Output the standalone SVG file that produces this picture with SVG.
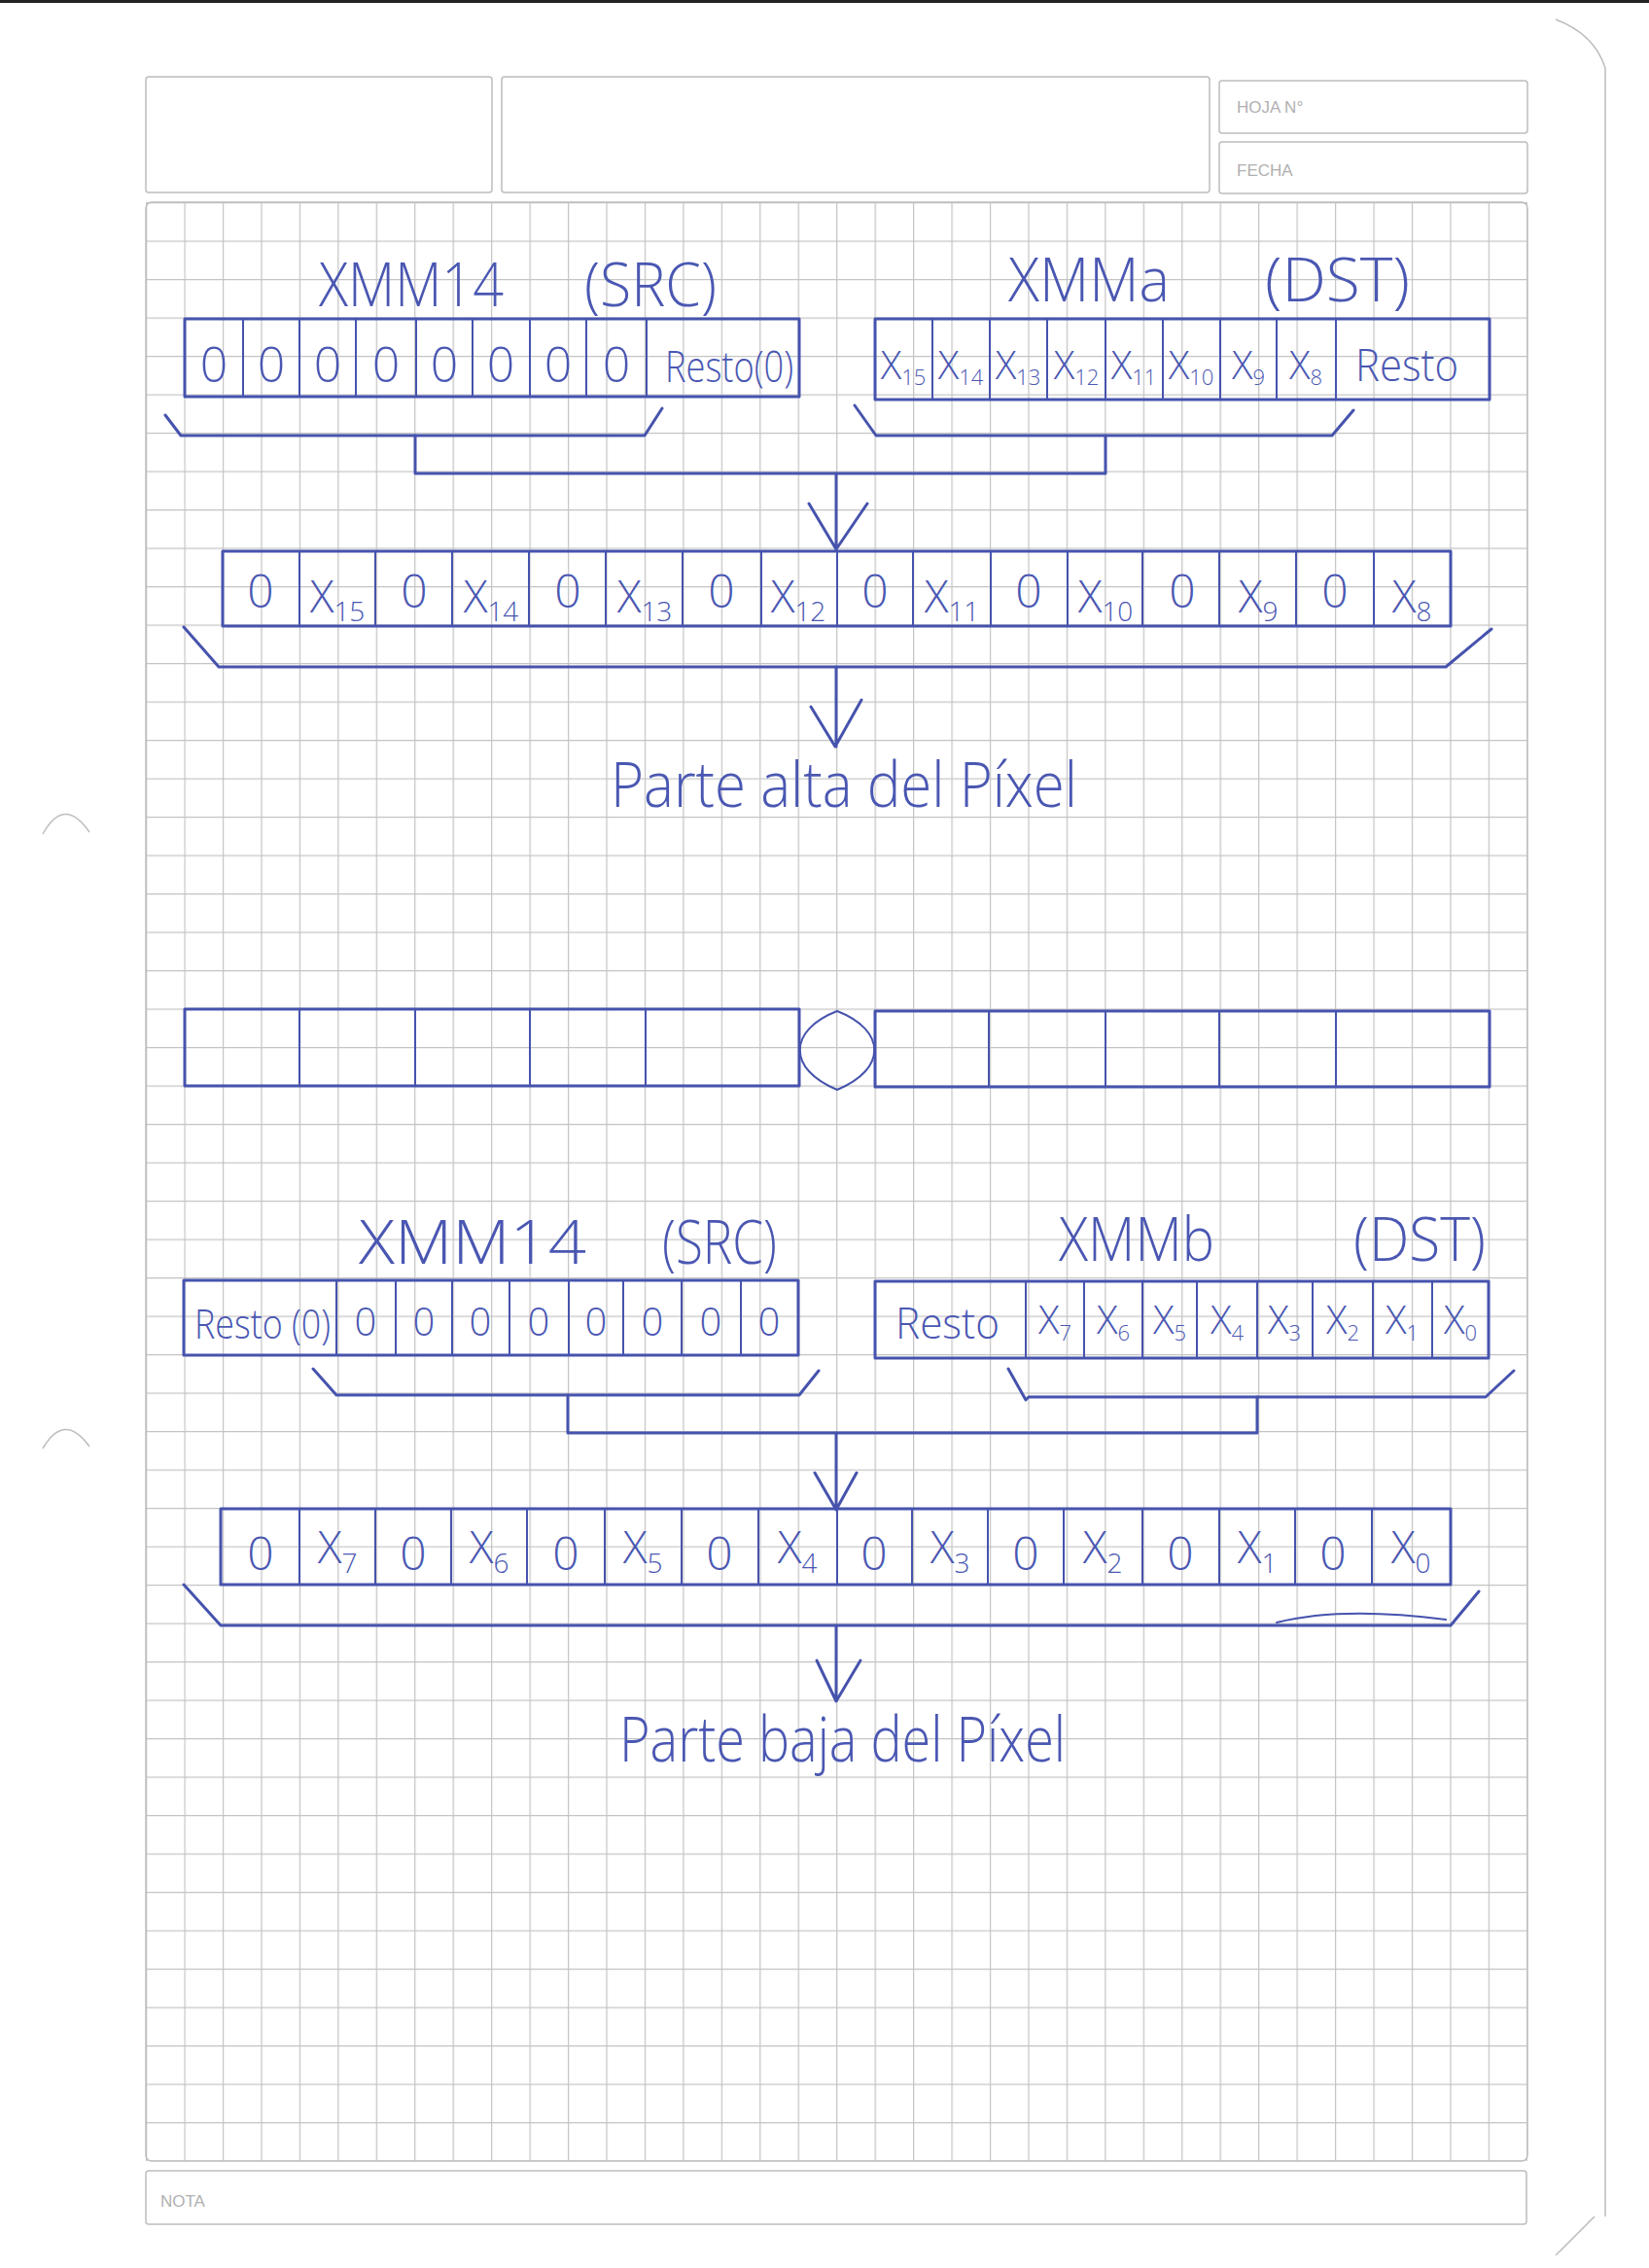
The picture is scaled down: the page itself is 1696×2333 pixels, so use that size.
<svg xmlns="http://www.w3.org/2000/svg" width="1696" height="2333" viewBox="0 0 1696 2333">
<defs>
<pattern id="grid" x="150" y="208" width="39.45" height="39.5" patternUnits="userSpaceOnUse">
<path d="M0,0.6 H39.45 M0.6,0 V39.5" fill="none" stroke="#c4c4c4" stroke-width="1.3"/>
</pattern>
<style>
.paper{fill:none;stroke:#bdbdbd;stroke-width:1.5}
.ptxt{font-family:"Liberation Sans",Arial,sans-serif;font-size:17px;fill:#b0b0b0}
.pen{fill:none;stroke:#4653ad;stroke-width:3;stroke-linecap:round;stroke-linejoin:round}
.thin{fill:none;stroke:#4653ad;stroke-width:2;stroke-linecap:round}
.hw{font-family:"Open Sans","DejaVu Sans",sans-serif;font-weight:300;fill:#4a57b2}
.z1{font-size:50px;text-anchor:middle}
.x1{font-size:40px;text-anchor:middle}
.z2{font-size:48px;text-anchor:middle}
.x2{font-size:46px;text-anchor:middle}
.z3{font-size:40px;text-anchor:middle}
.sub1{font-size:22px}
.sub2{font-size:28px}
.title{font-size:62px}
.big{font-size:64px}
</style>
</defs>
<rect x="0" y="0" width="1696" height="2333" fill="#ffffff"/>
<rect x="0" y="0" width="1696" height="3" fill="#222222"/>

<!-- paper template -->
<g id="paper">
<rect class="paper" x="150" y="79" width="356" height="119" rx="3"/>
<rect class="paper" x="516" y="79" width="728" height="119" rx="3"/>
<rect class="paper" x="1254" y="83" width="317" height="54" rx="3"/>
<rect class="paper" x="1254" y="146" width="317" height="53" rx="3"/>
<text class="ptxt" x="1272" y="116">HOJA N°</text>
<text class="ptxt" x="1272" y="181">FECHA</text>
<rect x="150" y="208" width="1421" height="2015" fill="url(#grid)"/>
<rect class="paper" x="150" y="208" width="1421" height="2015" rx="6"/>
<rect class="paper" x="150" y="2233" width="1420" height="55" rx="3"/>
<text class="ptxt" x="165" y="2270">NOTA</text>
<path class="paper" d="M44,858 Q66,818 92,856"/>
<path class="paper" d="M44,1490 Q66,1452 92,1488"/>
<path class="paper" d="M1600,20 Q1640,35 1651,70 V2280"/>
<path class="paper" d="M1600,2320 L1640,2280"/>
</g>

<!-- top: XMM14 (SRC) -->
<g id="reg-src-hi">
<text class="hw title" y="315"><tspan x="328" textLength="190" lengthAdjust="spacingAndGlyphs">XMM14</tspan><tspan x="601" textLength="136" lengthAdjust="spacingAndGlyphs">(SRC)</tspan></text>
<rect class="pen" x="190" y="328" width="632" height="80"/>
<path class="thin" d="M250,328V408 M308,328V408 M366,328V408 M428,328V408 M486,328V408 M545,328V408 M603,328V408 M665,328V408"/>
<g class="hw z1">
<text x="220" y="393">0</text><text x="279" y="393">0</text><text x="337" y="393">0</text><text x="397" y="393">0</text>
<text x="457" y="393">0</text><text x="515" y="393">0</text><text x="574" y="393">0</text><text x="634" y="393">0</text>
</g>
<text class="hw" font-size="44" x="684" y="393" textLength="132" lengthAdjust="spacingAndGlyphs">Resto(0)</text>
</g>

<!-- top: XMMa (DST) -->
<g id="reg-dst-hi">
<text class="hw title" y="310"><tspan x="1037" textLength="166" lengthAdjust="spacingAndGlyphs">XMMa</tspan><tspan x="1301" textLength="149" lengthAdjust="spacingAndGlyphs">(DST)</tspan></text>
<rect class="pen" x="900" y="328" width="632" height="83"/>
<path class="thin" d="M959,328V411 M1018,328V411 M1077,328V411 M1137,328V411 M1196,328V411 M1255,328V411 M1313,328V411 M1374,328V411"/>
<g class="hw x1">
<text x="929" y="390">X<tspan class="sub1" dy="6">15</tspan></text>
<text x="988" y="390">X<tspan class="sub1" dy="6">14</tspan></text>
<text x="1047" y="390">X<tspan class="sub1" dy="6">13</tspan></text>
<text x="1107" y="390">X<tspan class="sub1" dy="6">12</tspan></text>
<text x="1166" y="390">X<tspan class="sub1" dy="6">11</tspan></text>
<text x="1225" y="390">X<tspan class="sub1" dy="6">10</tspan></text>
<text x="1284" y="390">X<tspan class="sub1" dy="6">9</tspan></text>
<text x="1343" y="390">X<tspan class="sub1" dy="6">8</tspan></text>
</g>
<text class="hw" font-size="46" x="1394" y="392" textLength="106" lengthAdjust="spacingAndGlyphs">Resto</text>
</g>

<!-- result high -->
<g id="result-hi">
<rect class="pen" x="229" y="567" width="1263" height="77"/>
<path class="thin" d="M308,567V644 M386,567V644 M465,567V644 M544,567V644 M623,567V644 M702,567V644 M783,567V644 M861,567V644 M939,567V644 M1019,567V644 M1098,567V644 M1175,567V644 M1254,567V644 M1333,567V644 M1413,567V644"/>
<g class="hw z2">
<text x="268" y="625">0</text><text x="426" y="625">0</text><text x="584" y="625">0</text><text x="742" y="625">0</text>
<text x="900" y="625">0</text><text x="1058" y="625">0</text><text x="1216" y="625">0</text><text x="1373" y="625">0</text>
</g>
<g class="hw x2">
<text x="347" y="630">X<tspan class="sub2" dy="9">15</tspan></text>
<text x="505" y="630">X<tspan class="sub2" dy="9">14</tspan></text>
<text x="663" y="630">X<tspan class="sub2" dy="9">13</tspan></text>
<text x="821" y="630">X<tspan class="sub2" dy="9">12</tspan></text>
<text x="979" y="630">X<tspan class="sub2" dy="9">11</tspan></text>
<text x="1137" y="630">X<tspan class="sub2" dy="9">10</tspan></text>
<text x="1294" y="630">X<tspan class="sub2" dy="9">9</tspan></text>
<text x="1452" y="630">X<tspan class="sub2" dy="9">8</tspan></text>
</g>
</g>

<g id="label-hi">
<text class="hw big" x="628" y="830" textLength="480" lengthAdjust="spacingAndGlyphs">Parte alta del Píxel</text>
</g>

<!-- blank register pair -->
<g id="blank-row">
<rect class="pen" x="190" y="1038" width="632" height="79"/>
<path class="thin" d="M308,1038V1117 M427,1038V1117 M545,1038V1117 M664,1038V1117"/>
<path class="thin" d="M861,1040 C810,1060 810,1100 861,1121 C912,1100 912,1060 861,1040 Z"/>
<rect class="pen" x="900" y="1040" width="632" height="78"/>
<path class="thin" d="M1017,1040V1118 M1137,1040V1118 M1254,1040V1118 M1374,1040V1118"/>
</g>

<!-- bottom: XMM14 (SRC) -->
<g id="reg-src-lo">
<text class="hw title" y="1300"><tspan x="369" textLength="234" lengthAdjust="spacingAndGlyphs">XMM14</tspan><tspan x="681" textLength="118" lengthAdjust="spacingAndGlyphs">(SRC)</tspan></text>
<rect class="pen" x="189" y="1317" width="632" height="77"/>
<path class="thin" d="M346,1317V1394 M407,1317V1394 M465,1317V1394 M524,1317V1394 M585,1317V1394 M641,1317V1394 M701,1317V1394 M762,1317V1394"/>
<text class="hw" font-size="42" x="200" y="1377" textLength="140" lengthAdjust="spacingAndGlyphs">Resto (0)</text>
<g class="hw z3">
<text x="376" y="1374">0</text><text x="436" y="1374">0</text><text x="494" y="1374">0</text><text x="554" y="1374">0</text>
<text x="613" y="1374">0</text><text x="671" y="1374">0</text><text x="731" y="1374">0</text><text x="791" y="1374">0</text>
</g>
</g>

<!-- bottom: XMMb (DST) -->
<g id="reg-dst-lo">
<text class="hw title" y="1297"><tspan x="1089" textLength="160" lengthAdjust="spacingAndGlyphs">XMMb</tspan><tspan x="1392" textLength="136" lengthAdjust="spacingAndGlyphs">(DST)</tspan></text>
<rect class="pen" x="900" y="1318" width="631" height="79"/>
<path class="thin" d="M1055,1318V1397 M1115,1318V1397 M1175,1318V1397 M1231,1318V1397 M1293,1318V1397 M1350,1318V1397 M1412,1318V1397 M1473,1318V1397"/>
<text class="hw" font-size="44" x="921" y="1377" textLength="107" lengthAdjust="spacingAndGlyphs">Resto</text>
<g class="hw x1">
<text x="1085" y="1372">X<tspan class="sub1" dy="7">7</tspan></text>
<text x="1145" y="1372">X<tspan class="sub1" dy="7">6</tspan></text>
<text x="1203" y="1372">X<tspan class="sub1" dy="7">5</tspan></text>
<text x="1262" y="1372">X<tspan class="sub1" dy="7">4</tspan></text>
<text x="1321" y="1372">X<tspan class="sub1" dy="7">3</tspan></text>
<text x="1381" y="1372">X<tspan class="sub1" dy="7">2</tspan></text>
<text x="1442" y="1372">X<tspan class="sub1" dy="7">1</tspan></text>
<text x="1502" y="1372">X<tspan class="sub1" dy="7">0</tspan></text>
</g>
</g>

<!-- result low -->
<g id="result-lo">
<rect class="pen" x="227" y="1552" width="1265" height="78"/>
<path class="thin" d="M308,1552V1630 M386,1552V1630 M464,1552V1630 M542,1552V1630 M622,1552V1630 M701,1552V1630 M780,1552V1630 M861,1552V1630 M938,1552V1630 M1016,1552V1630 M1094,1552V1630 M1175,1552V1630 M1254,1552V1630 M1332,1552V1630 M1411,1552V1630"/>
<g class="hw z2">
<text x="268" y="1615">0</text><text x="425" y="1615">0</text><text x="582" y="1615">0</text><text x="740" y="1615">0</text>
<text x="899" y="1615">0</text><text x="1055" y="1615">0</text><text x="1214" y="1615">0</text><text x="1371" y="1615">0</text>
</g>
<g class="hw x2">
<text x="347" y="1608">X<tspan class="sub2" dy="10">7</tspan></text>
<text x="503" y="1608">X<tspan class="sub2" dy="10">6</tspan></text>
<text x="661" y="1608">X<tspan class="sub2" dy="10">5</tspan></text>
<text x="820" y="1608">X<tspan class="sub2" dy="10">4</tspan></text>
<text x="977" y="1608">X<tspan class="sub2" dy="10">3</tspan></text>
<text x="1134" y="1608">X<tspan class="sub2" dy="10">2</tspan></text>
<text x="1293" y="1608">X<tspan class="sub2" dy="10">1</tspan></text>
<text x="1451" y="1608">X<tspan class="sub2" dy="10">0</tspan></text>
</g>
</g>

<g id="label-lo">
<text class="hw big" x="637" y="1812" textLength="459" lengthAdjust="spacingAndGlyphs">Parte baja del Píxel</text>
</g>

<!-- connectors -->
<g id="connectors">
<path class="pen" d="M170,427 L186,448 H663 L681,420"/>
<path class="pen" d="M879,417 L901,448 H1370 L1392,422"/>
<path class="pen" d="M427,448 V487 H1137 V448"/>
<path class="pen" d="M860,487 V565 M832,518 L860,565 L892,518"/>
<path class="pen" d="M189,645 L225,686 H1487 L1534,647"/>
<path class="pen" d="M860,686 V768 M834,727 L859,768 L886,720"/>
<path class="pen" d="M322,1408 L346,1435 H822 L842,1410"/>
<path class="pen" d="M1037,1408 L1055,1440 L1058,1437 H1528 L1557,1410"/>
<path class="pen" d="M584,1435 V1474 H1293 V1437"/>
<path class="pen" d="M860,1474 V1553 M838,1515 L860,1553 L881,1515"/>
<path class="pen" d="M189,1630 L227,1672 H1492 L1521,1637"/>
<path class="thin" d="M1313,1669 Q1380,1652 1487,1666"/>
<path class="pen" d="M860,1672 V1750 M840,1708 L860,1750 L885,1708"/>
</g>
</svg>
